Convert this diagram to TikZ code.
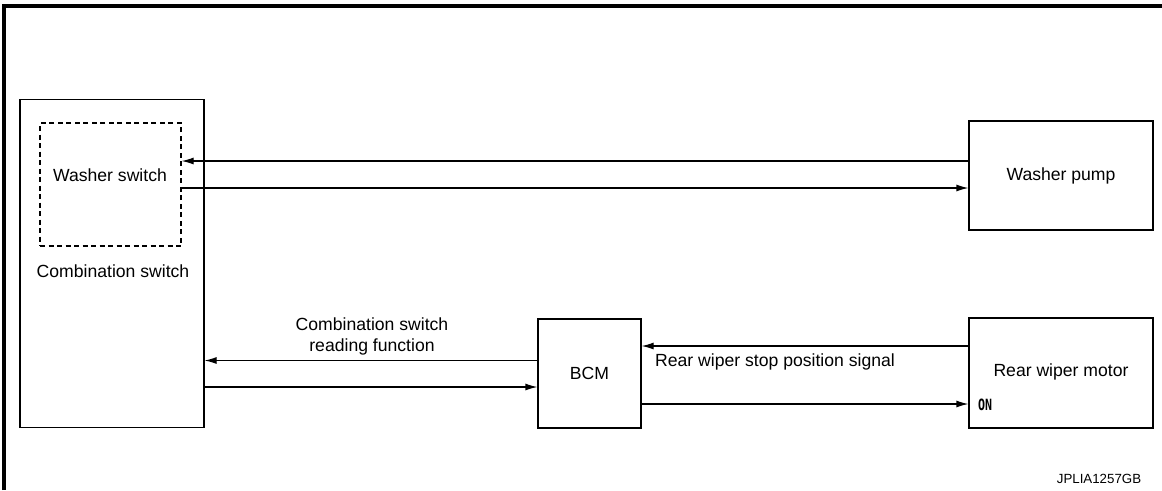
\documentclass[tikz,border=0pt]{standalone}
\usepackage{fontspec}
\setmainfont{Liberation Sans}
\newfontfamily\monofont{DejaVu Sans Mono}
\usetikzlibrary{arrows.meta}
\begin{document}
\begin{tikzpicture}[x=1pt,y=-1pt,
  box/.style={draw,line width=1.2pt,inner sep=0pt},
  dbox/.style={draw,line width=1.2pt,dash pattern=on 5pt off 3.5pt,inner sep=0pt},
  txt/.style={font=\fontsize{17.6}{21}\selectfont,inner sep=0pt,align=center},
  sig/.style={line width=1.2pt,-{Latex[length=12pt,width=7pt]}},
  frame/.style={line width=3.5pt}]
\useasboundingbox (0,0) rectangle (1162,490);
% frame
\coordinate (fb) at (4,490);
\coordinate (ft) at (4,6);
\coordinate (fr) at (1162,6);
\draw[frame] (fb) -- (ft) -- (fr);
% boxes
\node[box,minimum width=184pt,minimum height=328pt] (cs) at (112,263.5) {};
\node[txt] (cst) at (113,271) {Combination switch};
\node[dbox,minimum width=141pt,minimum height=123pt] (ws) at (110.5,184.5) {};
\node[txt] (wst) at (110,175) {Washer switch};
\node[box,txt,draw,line width=1.2pt,minimum width=184pt,minimum height=109pt] (wp) at (1061,175.5) {Washer pump};
\node[box,txt,draw,line width=1.2pt,minimum width=103pt,minimum height=109pt] (bcm) at (589.5,373.5) {BCM};
\node[box,minimum width=184pt,minimum height=110pt] (rw) at (1061,373) {};
\node[txt] (rwt) at (1061,372) {Rear wiper motor};
% connectors
\draw[sig] (wp.west |- 0,161) -- (ws.east |- 0,161);
\draw[sig] (ws.east |- 0,188) -- (wp.west |- 0,188);
\draw[sig] (bcm.west |- 0,360.5) -- (cs.east |- 0,360.5);
\draw[sig] (cs.east |- 0,387) -- (bcm.west |- 0,387);
\draw[sig] (rw.west |- 0,346) -- (bcm.east |- 0,346);
\draw[sig] (bcm.east |- 0,404) -- (rw.west |- 0,404);
% labels
\node[txt] (l1) at (372,336) {Combination switch\\reading function};
\node[txt] (l2) at (775,362) {Rear wiper stop position signal};
\node[inner sep=0pt,font=\monofont\bfseries\fontsize{15.5}{17}\selectfont] (on) at (985,405) {\scalebox{0.75}[1]{ON}};
\node[inner sep=0pt,font=\fontsize{13.3}{15}\selectfont] (id) at (1099,479) {JPLIA1257GB};
\end{tikzpicture}
\end{document}
